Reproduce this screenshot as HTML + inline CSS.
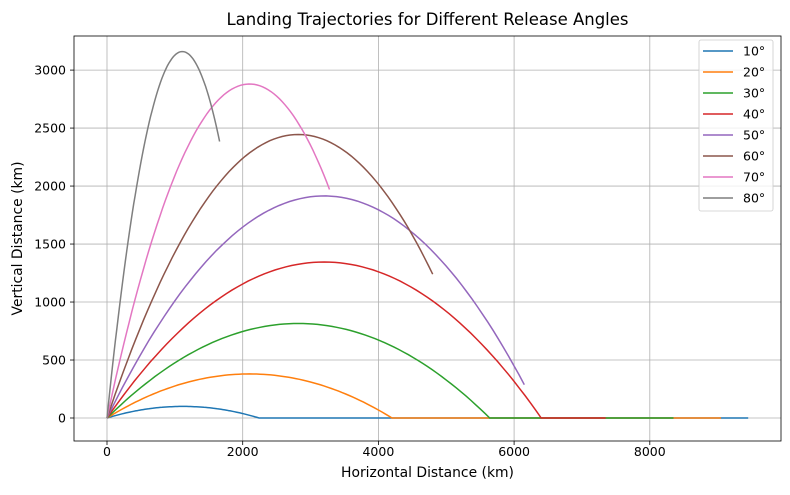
<!DOCTYPE html>
<html><head><meta charset="utf-8"><style>
body{margin:0;background:#fff;}
svg{font-family:"DejaVu Sans","Liberation Sans",sans-serif;}
</style></head><body>
<svg id="c" width="790" height="490" viewBox="0 0 790 490" xmlns="http://www.w3.org/2000/svg"></svg>
<script>
const labels=["10°","20°","30°","40°","50°","60°","70°","80°"];
const colors=["#1f77b4","#ff7f0e","#2ca02c","#d62728","#9467bd","#8c564b","#e377c2","#7f7f7f"];
const apexX=[1120,2100,2820,3200,3200,2820,2100,1110];
const apexY=[100,380,815,1345,1915,2445,2880,3160];
const endX=[2240,4200,5640,6400,6150,4800,3280,1660];
const tailX=[9450,9050,8350,7350,null,null,null,null];
const xTicks=[0,2000,4000,6000,8000];
const yTicks=[0,500,1000,1500,2000,2500,3000];
const L=74,R=781,T=36,B=441;
const sx=v=>107+v*0.06785, sy=v=>418-v*0.11597;
const svg=document.getElementById('c');const NS="http://www.w3.org/2000/svg";
function el(t,a,p){const e=document.createElementNS(NS,t);for(const k in a)e.setAttribute(k,a[k]);(p||svg).appendChild(e);return e;}
let e=el('rect',{x:L,y:T,width:R-L,height:B-T,fill:'#fff'});

xTicks.forEach(v=>{const x=sx(v);
 let g=el('line',{x1:x,x2:x,y1:T,y2:B,stroke:'#b0b0b0','stroke-width':0.8});
 
 el('line',{x1:x,x2:x,y1:B,y2:B+4,stroke:'#000','stroke-width':0.8});
 let t=el('text',{x:x,y:B+15,'font-size':12.5,'text-anchor':'middle'});t.textContent=v;
 });
yTicks.forEach(v=>{const y=sy(v);
 let g=el('line',{x1:L,x2:R,y1:y,y2:y,stroke:'#b0b0b0','stroke-width':0.8});
 
 el('line',{x1:L-4,x2:L,y1:y,y2:y,stroke:'#000','stroke-width':0.8});
 let t=el('text',{x:L-8,y:y+4.5,'font-size':12.5,'text-anchor':'end'});t.textContent=v;
 });
labels.forEach((lab,i)=>{
 const pts=[];const N=80;
 for(let k=0;k<=N;k++){const x=endX[i]*k/N;const u=(x-apexX[i])/apexX[i];const y=Math.max(0,apexY[i]*(1-u*u));pts.push(sx(x).toFixed(1)+','+sy(y).toFixed(1));}
 if(tailX[i]!==null)pts.push(sx(tailX[i]).toFixed(1)+','+sy(0).toFixed(1));
 let p=el('polyline',{points:pts.join(' '),fill:'none',stroke:colors[i],'stroke-width':1.5});
 });
e=el('rect',{x:L,y:T,width:R-L,height:B-T,fill:'none',stroke:'#000','stroke-width':0.8});

const lg=el('g',{});
el('rect',{x:699,y:40,width:74,height:171,rx:2,fill:'#fff','fill-opacity':0.8,stroke:'#ccc','stroke-width':0.8},lg);
labels.forEach((lab,i)=>{const y=51+i*21;
 const g=el('g',{},lg);
 el('line',{x1:703,x2:733,y1:y,y2:y,stroke:colors[i],'stroke-width':1.5},g);
 const t=el('text',{x:743,y:y+4.5,'font-size':12.5},g);t.textContent=lab;});
let t=el('text',{x:(L+R)/2,y:25,'font-size':16.5,'text-anchor':'middle'});t.textContent='Landing Trajectories for Different Release Angles';

t=el('text',{x:(L+R)/2,y:477,'font-size':13.9,'text-anchor':'middle'});t.textContent='Horizontal Distance (km)';

t=el('text',{x:0,y:0,'font-size':13.9,'text-anchor':'middle',transform:'translate(22,'+(T+B)/2+') rotate(-90)'});t.textContent='Vertical Distance (km)';

</script>
</body></html>
